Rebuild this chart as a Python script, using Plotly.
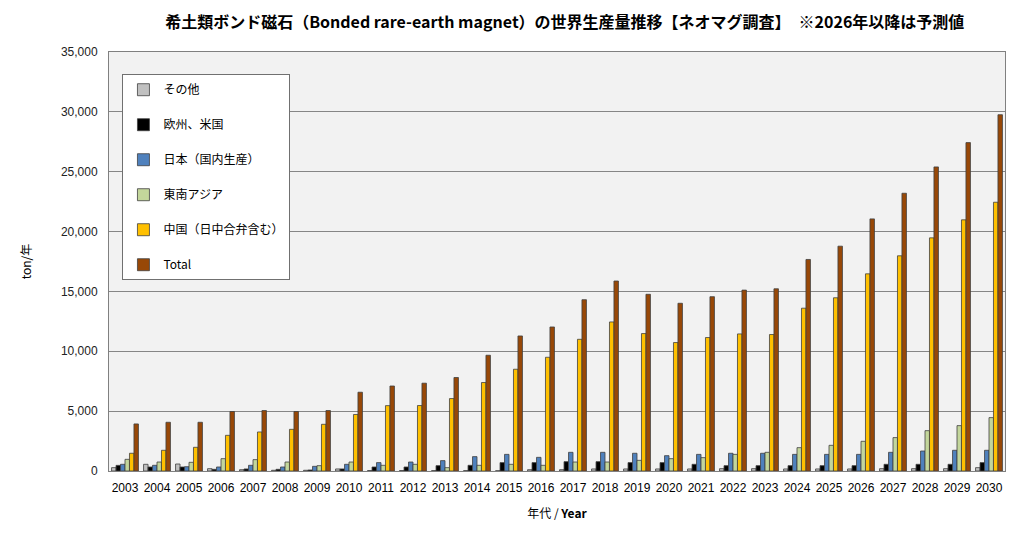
import plotly.graph_objects as go

years = [str(y) for y in range(2003, 2031)]

other = [280, 560, 585, 195, 110, 60, 60, 170, 40, 40, 30, 30, 20, 110, 110, 170, 170, 170,
         170, 195, 195, 170, 170, 170, 195, 195, 195, 280]
eu_us = [470, 335, 335, 140, 170, 140, 85, 170, 335, 335, 445, 475, 700, 700, 780, 780, 700, 700,
         560, 445, 445, 445, 445, 445, 560, 560, 560, 700]
japan = [560, 475, 360, 335, 475, 335, 390, 560, 700, 750, 865, 1200, 1390, 1140, 1560, 1560, 1480, 1280,
         1390, 1480, 1480, 1390, 1390, 1390, 1560, 1670, 1730, 1730]
se_asia = [975, 750, 725, 1030, 950, 750, 445, 750, 475, 560, 280, 475, 560, 475, 750, 750, 890, 1030,
           1115, 1390, 1560, 1950, 2145, 2480, 2790, 3370, 3790, 4460]
china = [1480, 1730, 1980, 2980, 3260, 3480, 3900, 4720, 5460, 5470, 6050, 7390, 8500, 9500, 11000, 12450, 11480, 10730,
         11150, 11450, 11400, 13600, 14470, 16470, 17975, 19475, 20980, 22450]
total = [3930, 4070, 4070, 4970, 5050, 4970, 5050, 6580, 7100, 7335, 7810, 9670, 11280, 12030, 14310, 15870, 14760, 14010,
         14560, 15110, 15220, 17670, 18780, 21060, 23200, 25400, 27430, 29760]

series_names = ["その他", "欧州、米国", "日本（国内生産）", "東南アジア", "中国（日中合弁含む）", "Total"]
series_values = [other, eu_us, japan, se_asia, china, total]
series_colors = ["#c0c0c0", "#000000", "#4f81bd", "#c3d69b", "#ffc000", "#984807"]

y_ticks = list(range(0, 35001, 5000))
y_tick_text = [f"{v:,}" for v in y_ticks]

fig = go.Figure()
for name, vals, col in zip(series_names, series_values, series_colors):
    fig.add_trace(go.Bar(
        x=years, y=vals, name=name, legendgroup=name,
        marker=dict(color=col, line=dict(color="#404040", width=0.8)),
    ))

font_jp = "Noto Sans CJK JP, Liberation Sans, sans-serif"
fig.update_layout(
    width=1016, height=527,
    margin=dict(l=101, r=19, t=44, b=64),
    paper_bgcolor="white",
    plot_bgcolor="#f2f2f2",
    barmode="group",
    bargap=0.16,
    bargroupgap=0.0,
    font=dict(family=font_jp, size=12, color="#000000"),
    title=dict(
        text="<b>希土類ボンド磁石（Bonded rare-earth magnet）の世界生産量推移【ネオマグ調査】　※2026年以降は予測値</b>",
        x=0.548, xanchor="center", xref="container",
        y=0.973, yanchor="middle", yref="container",
        font=dict(family=font_jp, size=16, color="#000000"),
    ),
    legend=dict(
        x=0.015, y=0.947, xanchor="left", yanchor="top",
        bgcolor="white", bordercolor="#707070", borderwidth=1,
        font=dict(family=font_jp, size=12),
        traceorder="grouped", tracegroupgap=16,
        itemwidth=30,
    ),
    showlegend=True,
)
fig.update_xaxes(
    type="category", automargin=False,
    showline=True, linecolor="#808080", linewidth=1, mirror=True,
    ticks="", ticklabelstandoff=6,
    tickfont=dict(family="Liberation Sans, Arial", size=12, color="#000000"),
    title=dict(text="年代 / <b>Year</b>", font=dict(family=font_jp, size=12), standoff=15),
)
fig.update_yaxes(
    range=[0, 35000], automargin=False,
    tickvals=y_ticks, ticktext=y_tick_text,
    showgrid=True, gridcolor="#868686", gridwidth=1,
    showline=True, linecolor="#808080", linewidth=1, mirror=True,
    ticks="", ticklabelstandoff=8,
    tickfont=dict(family="Liberation Sans, Arial", size=12, color="#222222"),
    title=dict(text="ton/年", font=dict(family=font_jp, size=12), standoff=26),
    zeroline=False,
)

fig.write_html("out.html")
